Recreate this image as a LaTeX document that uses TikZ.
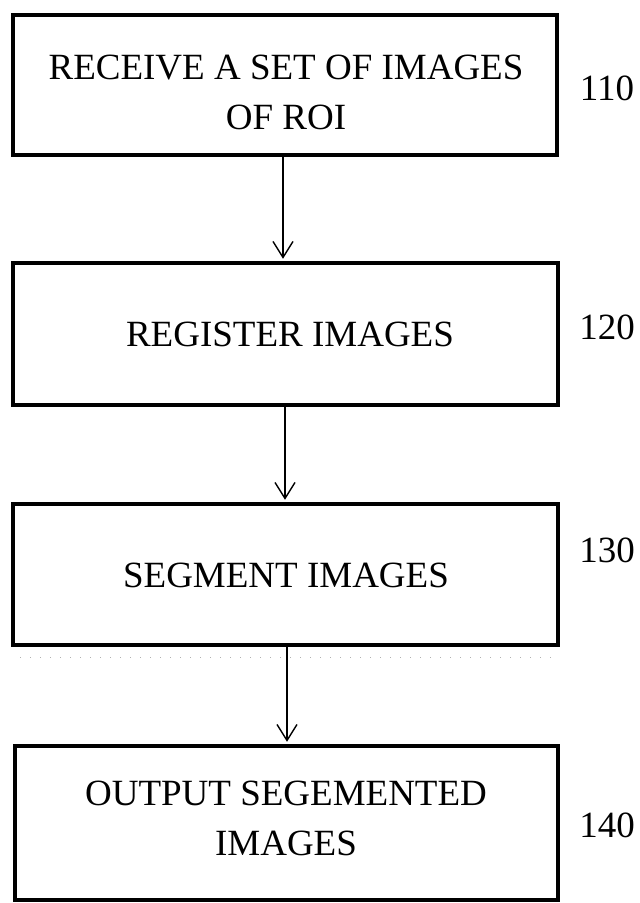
\documentclass[tikz,border=0pt]{standalone}
\usepackage{fontspec}
\setmainfont{Liberation Serif}
\usetikzlibrary{arrows.meta}
\begin{document}
\begin{tikzpicture}[x=1pt,y=-1pt,
  stepbox/.style={draw=black,line width=4.5pt,inner sep=0pt,fill=none},
  boxtext/.style={font=\fontsize{37}{50}\selectfont,align=center,inner sep=0pt},
  reflabel/.style={font=\fontsize{37}{40}\selectfont,inner sep=0pt},
  arr/.style={line width=1.4pt,-{Straight Barb[length=16pt,width=20pt,line width=1.4pt]}}]
\useasboundingbox (0,0) rectangle (640,903);
\fill[white] (0,0) rectangle (640,903);
% boxes
\node[stepbox,minimum width=544pt,minimum height=140pt] (b1) at (285,85) {};
\node[stepbox,minimum width=545pt,minimum height=142pt] (b2) at (285.5,334) {};
\node[stepbox,minimum width=545pt,minimum height=141pt] (b3) at (285.5,574.5) {};
\node[stepbox,minimum width=543pt,minimum height=154pt] (b4) at (286.5,823) {};
% texts
\node[boxtext] (t1) at (286,92) {RECEIVE A SET OF IMAGES\\OF ROI};
\node[boxtext] (t2) at (290,334) {REGISTER IMAGES};
\node[boxtext] (t3) at (286,575) {SEGMENT IMAGES};
\node[boxtext] (t4) at (286,818) {OUTPUT SEGEMENTED\\IMAGES};
% reference numbers
\node[reflabel] (n1) at (607,88) {110};
\node[reflabel] (n2) at (607,327) {120};
\node[reflabel] (n3) at (607,550) {130};
\node[reflabel] (n4) at (607,825) {140};
% faint scan line
\coordinate (d1) at (20,657);
\coordinate (d2) at (556,657);
\draw[gray!60,line width=0.8pt,dash pattern=on 1pt off 9pt] (d1) -- (d2);
% arrows
\draw[arr] ([xshift=-2pt]b1.south) -- ([xshift=-2.5pt,yshift=2pt]b2.north);
\draw[arr] ([xshift=-0.5pt]b2.south) -- ([xshift=-0.5pt,yshift=2pt]b3.north);
\draw[arr] ([xshift=1.5pt]b3.south) -- ([xshift=0.5pt,yshift=2pt]b4.north);
\end{tikzpicture}
\end{document}
